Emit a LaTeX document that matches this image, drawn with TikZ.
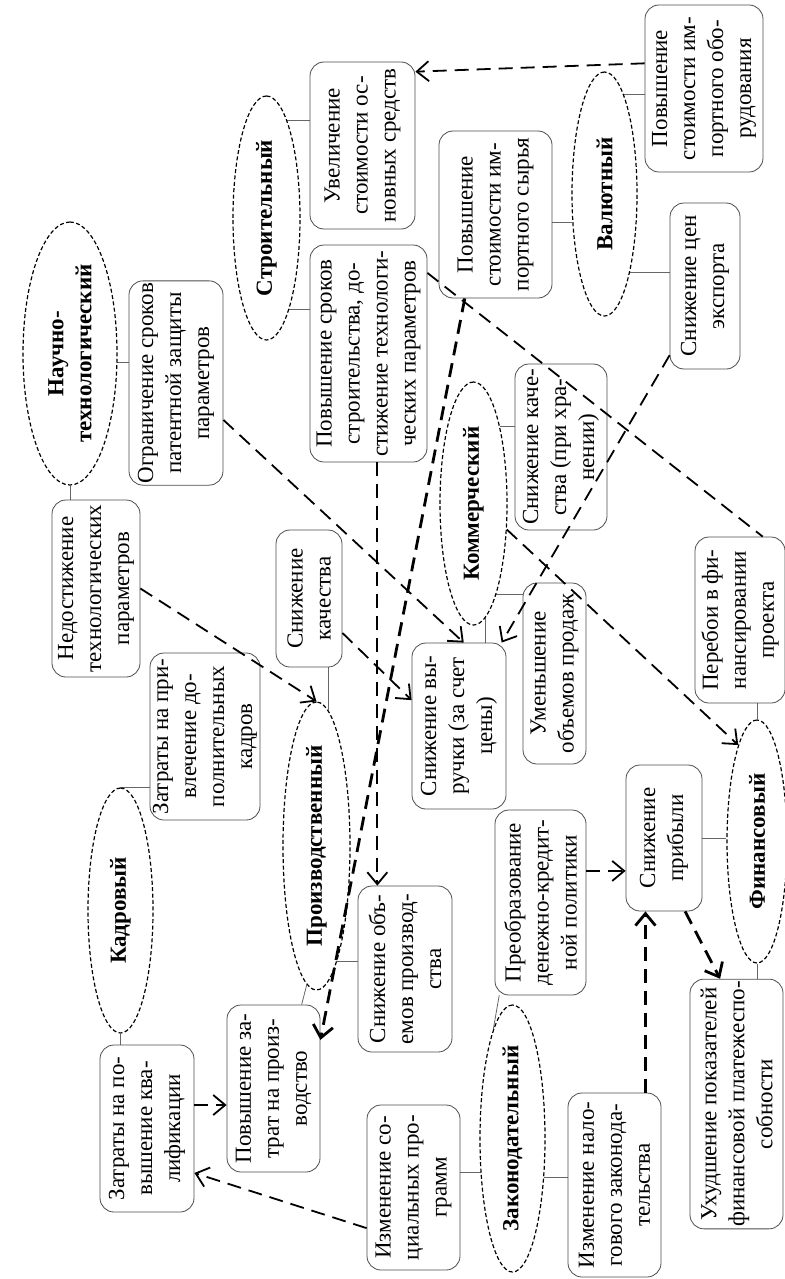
\documentclass[tikz,border=0pt]{standalone}
\usepackage{fontspec}
\setmainfont{Liberation Serif}
\usetikzlibrary{shapes,backgrounds,positioning,arrows.meta,calc}

\begin{document}
\begin{tikzpicture}[x=0.5pt,y=-0.5pt,
  box/.style={draw=black!70, rounded corners=7pt, rotate=90, align=center, inner sep=1pt, font=\fontsize{11.5}{14}\selectfont},
  group/.style={draw, ellipse, dash pattern=on 2pt off 1.2pt, line width=0.6pt, rotate=90, align=center, inner sep=0pt, font=\fontsize{11.5}{14}\selectfont\bfseries},
  dashline/.style={draw, line width=0.9pt, dash pattern=on 7pt off 4pt},
  link/.style={dashline, -{Straight Barb[length=6pt,width=10pt]}},
  boldlink/.style={link, line width=1.4pt},
  tie/.style={draw, color=black!60, line width=0.4pt}]
\useasboundingbox (0,0) rectangle (785,1279);
% groups of risk
\node[group, minimum width=131.5pt, minimum height=47pt] (nauch) at (70,353.5) {Научно-\\технологический};
\node[group, minimum width=122pt, minimum height=33.5pt] (stroi) at (266.5,218) {Строительный};
\node[group, minimum width=122.5pt, minimum height=32.5pt] (kadr) at (120.5,910.5) {Кадровый};
\node[group, minimum width=144pt, minimum height=33.5pt] (proizv) at (316.5,846) {Производственный};
\node[group, minimum width=121.5pt, minimum height=33.5pt] (komm) at (473.5,503.5) {Коммерческий};
\node[group, minimum width=122pt, minimum height=32.5pt] (valut) at (604.5,194) {Валютный};
\node[group, minimum width=133.5pt, minimum height=32.5pt] (zakon) at (512.5,1138.5) {Законодательный};
\node[group, minimum width=121.5pt, minimum height=30pt] (fin) at (757,841.5) {Финансовый};
% boxes
\node[box, minimum width=83.5pt, minimum height=52.5pt] (uvel) at (362.5,145.5) {Увеличение\\стоимости ос-\\новных средств};
\node[box, minimum width=108.5pt, minimum height=58.5pt] (rost) at (368.5,353.5) {Повышение сроков\\строительства, до-\\стижение технологи-\\ческих параметров};
\node[box, minimum width=102pt, minimum height=47pt] (ogran) at (176,383) {Ограничение сроков\\патентной защиты\\параметров};
\node[box, minimum width=88.5pt, minimum height=44pt] (nedost) at (96,588.5) {Недостижение\\технологических\\параметров};
\node[box, minimum width=83.5pt, minimum height=55pt] (kadry) at (205,736.5) {Затраты на при-\\влечение до-\\полнительных\\кадров};
\node[box, minimum width=83.5pt, minimum height=47pt] (kval) at (147,1128.5) {Затраты на по-\\вышение ква-\\лификации};
\node[box, minimum width=83.5pt, minimum height=46.5pt] (zatr) at (273.5,1088.5) {Повышение за-\\трат на произ-\\водство};
\node[box, minimum width=68.5pt, minimum height=33pt] (kach) at (309,598.5) {Снижение\\качества};
\node[box, minimum width=83pt, minimum height=47pt] (obem) at (405,969) {Снижение объ-\\емов производ-\\ства};
\node[box, minimum width=82.5pt, minimum height=46.5pt] (soc) at (413.5,1187.5) {Изменение со-\\циальных про-\\грамм};
\node[box, minimum width=92pt, minimum height=46.5pt] (nalog) at (614.5,1185) {Изменение нало-\\гового законода-\\тельства};
\node[box, minimum width=92.5pt, minimum height=45.5pt] (preobr) at (540.5,902.5) {Преобразование\\денежно-кредит-\\ной политики};
\node[box, minimum width=73pt, minimum height=38pt] (prib) at (664,838) {Снижение\\прибыли};
\node[box, minimum width=124pt, minimum height=46.5pt] (uhud) at (736.5,1104) {Ухудшение показателей\\финансовой платежеспо-\\собности};
\node[box, minimum width=83pt, minimum height=45pt] (pereb) at (740,620) {Перебои в фи-\\нансировании\\проекта};
\node[box, minimum width=83pt, minimum height=47pt] (vyr) at (459,726) {Снижение вы-\\ручки (за счет\\цены)};
\node[box, minimum width=90.5pt, minimum height=31.5pt] (prodazh) at (554.5,673.5) {Уменьшение\\объемов продаж};
\node[box, minimum width=83pt, minimum height=46pt] (kachhr) at (561,447) {Снижение каче-\\ства (при хра-\\нении)};
\node[box, minimum width=83.5pt, minimum height=56.5pt] (syrie) at (495.5,214.5) {Повышение\\стоимости им-\\портного сырья};
\node[box, minimum width=83.5pt, minimum height=59pt] (oborud) at (704,88.5) {Повышение\\стоимости им-\\портного обо-\\рудования};
\node[box, minimum width=83pt, minimum height=35pt] (eksp) at (705,286) {Снижение цен\\экспорта};
\begin{scope}[on background layer]
\path [tie] (stroi.348) -- (stroi.348 -| uvel.north);
\path [tie] (stroi.194) -- (stroi.194 -| rost.north);
\path [tie] (nauch.259) -- (nauch.259 -| ogran.north);
\path [tie] (nauch.west) -- (nauch.west |- nedost.east);
\path [tie] (kadr.east) -- (kadr.east -| kadry.north);
\path [tie] (kadr.west) -- (kadr.west |- kval.east);
\path [tie] (proizv.355) -- (proizv.355 |- kach.west);
\path [tie] (proizv.176) -- ($(zatr.east)!0.6!(zatr.south east)$);
\path [tie] (proizv.190) -- (proizv.190 -| obem.north);
\path [tie] (komm.341) -- (komm.341 -| kachhr.north);
\path [tie] (komm.194) -- (komm.194 -| prodazh.north);
\path [tie] (komm.186) -- (komm.186 |- vyr.east);
\path [tie] (valut.131) -- (valut.131 -| syrie.south);
\path [tie] (valut.349) -- (valut.349 -| oborud.north);
\path [tie] (valut.198) -- (valut.198 -| eksp.north);
\path [tie] (zakon.137) -- (zakon.137 -| soc.south);
\path [tie] (zakon.219) -- (zakon.219 -| nalog.north);
\path [tie] ($(preobr.north west)!0.1!(preobr.west)$) -- (zakon.10);
\path [tie] (prib.south) -- (prib.south -| fin.north);
\path [tie] (fin.east) -- (fin.east |- pereb.west);
\path [tie] (fin.west) -- (fin.west |- uhud.east);
\end{scope}
% dashed links
\coordinate (r1) at ($(rost.west)!0.15!(rost.south west)$);
\coordinate (k1) at ($(kval.south)!0.28!(kval.south east)$);
\coordinate (p1) at ($(preobr.south)!0.34!(preobr.south east)$);
\coordinate (n1) at ($(nalog.east)!0.66!(nalog.south east)$);
\path [link] ($(oborud.north)!0.3!(oborud.north east)$) -- ($(uvel.south)!0.88!(uvel.south east)$);
\path [link] ($(ogran.south)!0.36!(ogran.south west)$) -- ($(vyr.east)!0.1!(vyr.south east)$);
\path [link] ($(kach.south)!0.5!(kach.south west)$) -- ($(vyr.north)!0.31!(vyr.north east)$);
\path [link] (nedost.south) -- (proizv.east);
\path [link] (r1) -- (r1 |- obem.east);
\path [boldlink] ($(syrie.west)!0.54!(syrie.north west)$) -- ($(zatr.south)!0.58!(zatr.south east)$);
\path [dashline] ($(rost.south)!0.74!(rost.south east)$) -- ($(pereb.east)!0.5!(pereb.south east)$);
\path [link] ($(eksp.north)!0.83!(eksp.north west)$) -- ($(vyr.east)!0.9!(vyr.south east)$);
\path [link] (komm.232) -- (fin.11);
\path [link] (k1) -- (k1 -| zatr.north);
\path [link] ($(soc.north)!0.49!(soc.north west)$) -- ($(kval.south)!0.53!(kval.south west)$);
\path [link] (p1) -- (p1 -| prib.north);
\path [boldlink] (n1) -- (n1 |- prib.west);
\path [boldlink] ($(prib.west)!0.55!(prib.south west)$) -- ($(uhud.east)!0.35!(uhud.north east)$);
\end{tikzpicture}
\end{document}
